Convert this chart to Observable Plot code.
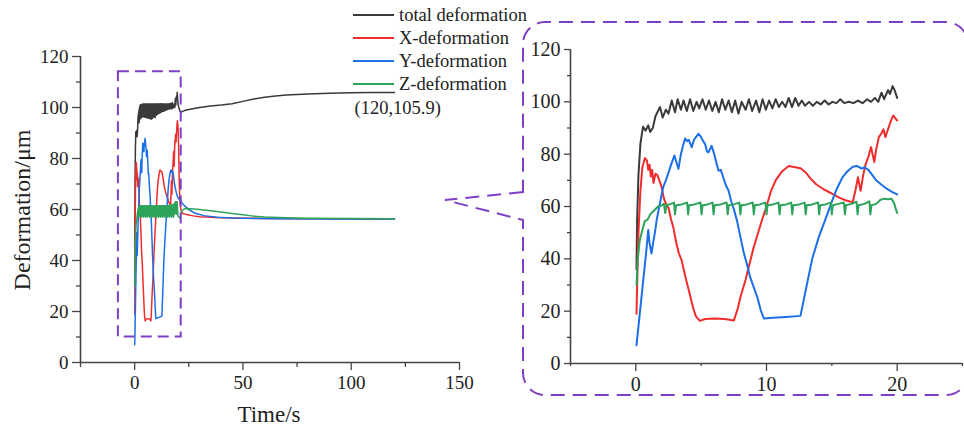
<!DOCTYPE html>
<html><head><meta charset="utf-8">
<script src="https://cdn.jsdelivr.net/npm/d3@7"></script>
<script src="https://cdn.jsdelivr.net/npm/@observablehq/plot@0.6"></script>
<style>
body{margin:0;background:#fff;}
#wrap{position:relative;width:964px;height:430px;overflow:hidden;font-family:"Liberation Serif","Times New Roman",serif;}
#wrap svg{position:absolute;top:0;}
#wrap svg text{font-family:"Liberation Serif","Times New Roman",serif !important;}
</style></head><body><div id="wrap"></div>
<script>
// ---------- data ----------
const seriesNames = ["total deformation","X-deformation","Y-deformation","Z-deformation"];
const seriesColors = ["#3a3a3a","#f22c2c","#1c6fe6","#2ea35a"];

// first 20 s (time s, deformation µm)
const totalFirst20 = [[0.05,36],[0.1,55],[0.2,72],[0.35,84],[0.55,90.5],[0.75,89],[0.95,91],[1.1,88.5],[1.3,90],[1.5,94.5],[1.7,96.5],[1.85,98],[2.05,94],[2.3,97],[2.5,95.5],[2.75,100.5],[3.0,96],[3.2,101],[3.45,97],[3.65,100.5],[3.9,96.5],[4.15,101],[4.4,96.5],[4.65,100],[4.85,97.5],[5.1,101],[5.35,97],[5.6,100.5],[5.85,96.5],[6.1,100],[6.35,96],[6.6,101],[6.85,97],[7.1,100.5],[7.35,96],[7.6,100.5],[7.85,95.5],[8.1,100],[8.4,97],[8.65,101],[8.9,96.5],[9.2,100.5],[9.45,96],[9.7,101],[9.95,97],[10.2,100.5],[10.45,97.5],[10.7,101],[10.95,98],[11.2,100],[11.45,98],[11.7,101.5],[11.95,98],[12.2,101.5],[12.45,98.5],[12.7,100.5],[12.95,98.5],[13.25,100],[13.55,98.5],[13.85,100],[14.15,99],[14.45,100.5],[14.75,99],[15.05,100],[15.35,99.5],[15.65,101],[15.95,99.5],[16.3,100],[16.65,99.5],[17.0,100.5],[17.35,99.5],[17.7,101],[18.0,100],[18.3,101.5],[18.55,100],[18.8,103.5],[19.0,101],[19.3,104.5],[19.45,103],[19.65,106],[19.8,104.5],[20.0,101.5]];
const xFirst20 = [[0.05,19],[0.1,30],[0.2,50],[0.35,66],[0.5,75],[0.7,78.5],[0.85,77.5],[0.95,74],[1.05,76],[1.15,71.5],[1.25,74],[1.35,69],[1.5,72.5],[1.65,72],[1.8,70],[1.97,67.5],[2.15,63],[2.35,60.5],[2.5,59.5],[2.7,55],[2.87,52],[3.1,46],[3.3,42],[3.5,39.5],[3.75,34],[4.0,29],[4.2,25],[4.4,21],[4.6,18],[4.9,16.3],[5.3,17],[6.0,17.2],[6.8,17],[7.5,16.4],[7.8,21],[8.0,25.3],[8.4,32],[8.7,38],[9.0,44],[9.3,49],[9.6,54],[10.0,60],[10.35,66],[10.7,70],[11.2,73.5],[11.7,75.5],[12.2,75],[12.6,74.6],[13.0,73],[13.4,70.5],[13.8,68.5],[14.4,66.5],[15.05,64.8],[15.6,63.3],[16.1,62.3],[16.6,61.6],[16.8,66],[17.0,71.2],[17.2,66],[17.4,72],[17.6,76.4],[17.8,79],[18.0,82.7],[18.25,77],[18.4,82],[18.6,86.5],[18.8,88],[18.95,89.5],[19.1,86.5],[19.3,89.5],[19.5,92.5],[19.7,94.8],[19.85,93.8],[20.0,92.9]];
const yFirst20 = [[0.05,7],[0.3,19],[0.56,31.5],[0.8,43],[0.95,51],[1.05,46],[1.2,42],[1.32,46],[1.46,50],[1.6,55],[1.8,60],[1.95,64],[2.1,67.5],[2.3,70],[2.5,73],[2.7,76],[2.95,79.5],[3.1,77],[3.26,74.4],[3.45,80],[3.6,83],[3.77,86],[3.92,85],[4.05,85.5],[4.28,82.7],[4.45,85.5],[4.6,86.5],[4.8,87.8],[5.0,86.5],[5.15,85],[5.3,83.9],[5.45,81],[5.56,80.7],[5.8,83.2],[6.0,80],[6.2,76],[6.33,73.7],[6.5,74],[6.7,71],[6.9,68],[7.1,66],[7.3,62],[7.5,59],[7.74,54.6],[8.0,48.5],[8.25,42.5],[8.5,38],[8.75,33],[9.0,29.5],[9.3,25.3],[9.55,20.5],[9.8,17.2],[10.5,17.5],[11.5,17.8],[12.6,18.2],[13.1,30.4],[13.5,40],[14.0,48.3],[14.5,55],[15.05,62.5],[15.4,67],[15.8,71],[16.2,73.5],[16.6,75.2],[16.9,75.5],[17.1,75],[17.3,74.5],[17.5,75],[17.8,74],[18.1,72],[18.4,70],[18.8,68.3],[19.2,66.8],[19.6,65.6],[20.0,64.6]];
const zFirst20 = [[0.05,30],[0.15,40],[0.3,47],[0.5,51],[0.7,54.5],[0.9,55],[1.1,57],[1.4,58.5],[1.7,60],[2.0,60.5],[2.15,61],[2.25,57.5],[2.35,60.5],[2.7,61],[2.92,61.5],[3.0,57],[3.08,60.5],[3.5,60.8],[3.92,61.5],[4.0,57],[4.08,60.5],[4.5,60.8],[4.95,61.5],[5.03,57],[5.11,60.5],[5.5,60.8],[5.87,61.5],[5.95,57],[6.03,60.5],[6.5,60.8],[6.95,61.5],[7.03,57],[7.11,60.5],[7.5,60.8],[7.92,61.5],[8.0,57],[8.08,60.5],[8.5,60.8],[8.95,61.5],[9.03,57],[9.11,60.5],[9.5,60.8],[9.92,61.5],[10.0,57],[10.08,60.5],[10.5,60.8],[10.92,61.5],[11.0,57],[11.08,60.5],[11.5,60.8],[11.89,61.5],[11.97,57],[12.05,60.5],[12.5,60.8],[12.92,61.5],[13.0,57],[13.08,60.5],[13.5,60.8],[13.95,61.5],[14.03,57],[14.11,60.5],[14.5,60.8],[14.92,61.5],[15.0,57],[15.08,60.5],[15.5,61],[15.92,61.5],[16.0,57],[16.08,60.5],[16.5,61],[16.89,61.8],[16.97,57],[17.05,60.5],[17.5,61],[17.87,62],[17.95,57],[18.03,60.5],[18.4,61],[18.7,62.5],[19.0,63],[19.3,62.8],[19.55,63],[19.75,61.5],[19.9,59],[20.0,57.5]];

// after 20 s (main chart only)
const totalAfter = [[20.4,100],[21,98.5],[21.5,98.2],[23,98.8],[25,99.2],[30,100],[35,100.6],[40,101],[45,101.5],[50,102.4],[55,103.3],[60,104],[65,104.5],[70,104.9],[80,105.3],[90,105.6],[100,105.8],[110,105.9],[120,105.9]];
const xAfter = [[20.3,85],[20.6,70],[21,62],[21.5,59.5],[22,58.5],[24,58],[27,57.5],[30,57.2],[35,57],[40,56.8],[50,56.6],[60,56.5],[80,56.4],[100,56.3],[120,56.3]];
const yAfter = [[21,63.5],[22,62.5],[23,61.5],[25,60],[28,58.5],[32,57.6],[38,57],[45,56.7],[55,56.5],[70,56.4],[90,56.3],[120,56.3]];
const zAfter = [[20.5,57],[21,56.5],[21.8,59.5],[23,60.3],[26,60.3],[30,60],[35,59.5],[40,59],[45,58.4],[50,57.9],[55,57.4],[60,57.1],[70,56.8],[80,56.6],[100,56.5],[120,56.4]];

// envelope of the dense oscillation seen in the main chart (time, low, high)
const totalBandMain = [[1.6,93,96],[2,94,99],[2.5,95,101],[4,96,101.5],[6,95.5,101.5],[8,95,101.5],[10,96.5,101.5],[12,97.5,101.5],[14,98.5,101.5],[16,99,101.5],[18,99.5,102]];
const zBandMain = [[1.2,55.5,58.5],[2,57,61.5],[5,57,61.5],[10,57,61.5],[15,57,61.5],[18,57,62],[19,58,63],[20,57.5,63]];

// ticks
const mainXTicks = [0,50,100,150], mainXMinor = [-25,25,75,125];
const yTicks = [0,20,40,60,80,100,120], yMinor = [10,30,50,70,90,110];
const zoomXTicks = [0,10,20], zoomXMinor = [-5,5,15,25];
const zoomWindow = [{x1:-7.5, x2:21.5, y1:10, y2:114}];
const endLabel = [{t:120, v:105.9, text:"(120,105.9)"}];

// ---------- drawing ----------
const FONT = "Liberation Serif, Times New Roman, serif";
const firsts = [totalFirst20, xFirst20, yFirst20, zFirst20];
const afters = [totalAfter, xAfter, yAfter, zAfter];
const AX = "#444";

function axisMarks(xd, yd, xT, xM, yT, yM, xMaj, xMin, yMaj, yMin) {
  return [
    Plot.ruleY([yd[0]], {stroke: AX, strokeWidth: 1.6}),
    Plot.ruleX([xd[0]], {stroke: AX, strokeWidth: 1.6}),
    Plot.axisY({ticks: yT, tickSize: yMaj, tickPadding: 4, label: null, stroke: AX, strokeWidth: 1.3, fill: "#222"}),
    Plot.axisY({ticks: yM, tickSize: yMin, tickFormat: () => "", label: null, stroke: AX, strokeWidth: 1.3}),
    Plot.axisX({ticks: xT, tickSize: xMaj, tickPadding: 5, label: null, stroke: AX, strokeWidth: 1.3, fill: "#222"}),
    Plot.axisX({ticks: xM, tickSize: xMin, tickFormat: () => "", label: null, stroke: AX, strokeWidth: 1.3})
  ];
}

const mainDomainX = [-25,150], zoomDomainX = [-5,25], domainY = [0,120];

const left = Plot.plot({
  width: 480, height: 430,
  marginLeft: 80, marginRight: 21, marginTop: 56, marginBottom: 68,
  x: {domain: mainDomainX}, y: {domain: domainY},
  style: {fontFamily: FONT, fontSize: "19px", color: "#222", background: "transparent"},
  marks: [
    Plot.areaY(totalBandMain, {x: d => d[0], y1: d => d[1], y2: d => d[2], fill: seriesColors[0]}),
    ...firsts.slice(0, 3).map((f, i) => Plot.line(f.concat(afters[i]), {x: d => d[0], y: d => d[1], stroke: seriesColors[i], strokeWidth: 1.5})),
    Plot.areaY(zBandMain, {x: d => d[0], y1: d => d[1], y2: d => d[2], fill: seriesColors[3]}),
    Plot.line(zFirst20.concat(zAfter), {x: d => d[0], y: d => d[1], stroke: seriesColors[3], strokeWidth: 1.5}),
    Plot.rect(zoomWindow, {x1: "x1", x2: "x2", y1: "y1", y2: "y2", fill: "none", stroke: "#7e3fc4", strokeWidth: 2, strokeDasharray: "11,6"}),
    Plot.text(endLabel, {x: "t", y: "v", text: "text", textAnchor: "start", dx: -40, dy: 16, fontSize: 18.5, fill: "#222"}),
    ...axisMarks(mainDomainX, domainY, mainXTicks, mainXMinor, yTicks, yMinor, 8, 5, 8, 4)
  ]
});
left.style.left = "0px";

const right = Plot.plot({
  width: 484, height: 430,
  marginLeft: 90, marginRight: 2, marginTop: 49, marginBottom: 67,
  x: {domain: zoomDomainX}, y: {domain: domainY},
  style: {fontFamily: FONT, fontSize: "20px", color: "#222", background: "transparent"},
  marks: [
    ...firsts.map((f, i) => Plot.line(f, {x: d => d[0], y: d => d[1], stroke: seriesColors[i], strokeWidth: 2})),
    ...axisMarks(zoomDomainX, domainY, zoomXTicks, zoomXMinor, yTicks, yMinor, 8, 3, 6, 3)
  ]
});
right.style.left = "480px";

const wrap = document.getElementById("wrap");
wrap.appendChild(left);
wrap.appendChild(right);

// overlay: callout, legend, axis titles
const ov = d3.select(wrap).append("svg").attr("width", 964).attr("height", 430).style("left", "0px")
  .style("font-family", FONT);
ov.append("path")
  .attr("d", "M523,192 L445,200 L523,220 V373 A22,22 0 0 0 545,395 H946 A22,22 0 0 0 968,373 V44 A22,22 0 0 0 946,22 H545 A22,22 0 0 0 523,44 Z")
  .attr("fill", "none").attr("stroke", "#7e3fc4").attr("stroke-width", 2).attr("stroke-dasharray", "14,8");

const lg = ov.append("g");
seriesNames.forEach((n, i) => {
  const y = 15 + i * 23;
  lg.append("line").attr("x1", 353).attr("x2", 394).attr("y1", y).attr("y2", y)
    .attr("stroke", seriesColors[i]).attr("stroke-width", 2);
  lg.append("text").attr("x", 399).attr("y", y).attr("dy", "0.35em").attr("font-size", 18.5).attr("fill", "#222").text(n);
});

ov.append("text").attr("transform", "translate(30,210) rotate(-90)").attr("text-anchor", "middle")
  .attr("font-size", 24).attr("fill", "#222").text("Deformation/μm");
ov.append("text").attr("x", 269).attr("y", 422).attr("text-anchor", "middle")
  .attr("font-size", 23).attr("fill", "#222").text("Time/s");
</script></body></html>
